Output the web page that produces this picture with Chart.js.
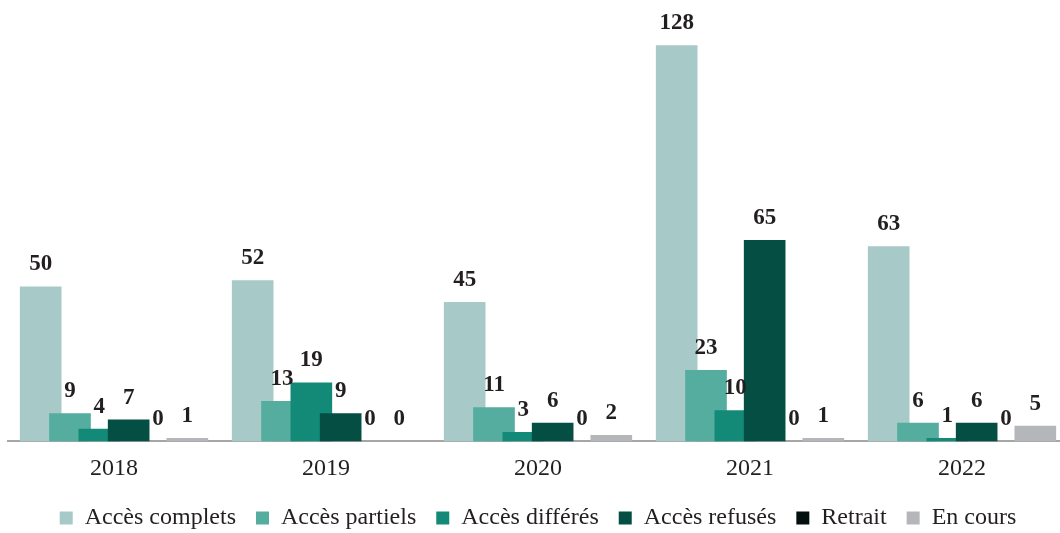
<!DOCTYPE html>
<html>
<head>
<meta charset="utf-8">
<script src="https://cdn.jsdelivr.net/npm/chart.js@4"></script>
<style>
  html, body { margin: 0; padding: 0; background: #fff; overflow: hidden; }
  #wrap { width: 1060px; height: 533px; overflow: hidden; }
</style>
</head>
<body>
<div id="wrap"><canvas id="chart" width="1068" height="533"></canvas></div>
<script>
const years = ["2018", "2019", "2020", "2021", "2022"];
const seriesNames = ["Accès complets", "Accès partiels", "Accès différés", "Accès refusés", "Retrait", "En cours"];
const complets = [50, 52, 45, 128, 63];
const partiels = [9, 13, 11, 23, 6];
const differes = [4, 19, 3, 10, 1];
const refuses = [7, 9, 6, 65, 6];
const retrait = [0, 0, 0, 0, 0];
const enCours = [1, 0, 2, 1, 5];
const colors = ["#a7c9c7", "#55ad9f", "#138a78", "#054e43", "#030f0f", "#b5b6ba"];

const serif = '"Liberation Serif", "Times New Roman", serif';

// later series overlap the earlier ones, so draw them first-to-last and put the values on top
const drawInOrder = {
  id: "drawInOrder",
  beforeDatasetsDraw(chart) {
    const ctx = chart.ctx;
    const metas = chart.getSortedVisibleDatasetMetas();
    metas.forEach((m) => m.controller.draw());
    ctx.save();
    ctx.font = "bold 23px " + serif;
    ctx.fillStyle = "#231f20";
    ctx.textAlign = "center";
    ctx.textBaseline = "alphabetic";
    metas.forEach((m) => {
      const vals = chart.data.datasets[m.index].data;
      m.data.forEach((bar, i) => {
        ctx.fillText(String(vals[i]), bar.x, bar.y - 16);
      });
    });
    ctx.restore();
    return false;
  },
};

// pull the legend a bit closer to the year labels
const legendNudge = {
  id: "legendNudge",
  afterLayout(chart) {
    chart.legend.top -= 10;
    chart.legend.bottom -= 10;
  },
};

const allSeries = [complets, partiels, differes, refuses, retrait, enCours];

new Chart(document.getElementById("chart"), {
  type: "bar",
  data: {
    labels: years,
    datasets: allSeries.map((vals, i) => ({
      label: seriesNames[i],
      data: vals,
      backgroundColor: colors[i],
      borderWidth: 0,
      categoryPercentage: 0.83,
      barPercentage: 1.42,
    })),
  },
  options: {
    responsive: false,
    animation: false,
    layout: { padding: { left: 8, top: 8, bottom: -17 } },
    plugins: {
      legend: {
        position: "bottom",
        labels: {
          font: { family: serif, size: 24 },
          color: "#231f20",
          boxWidth: 13,
          boxHeight: 13,
          padding: 20,
        },
      },
      tooltip: { enabled: false },
    },
    scales: {
      x: {
        grid: { display: false, drawTicks: false },
        border: { display: true, color: "#a6a6a6", width: 2 },
        ticks: {
          color: "#231f20",
          padding: 13,
          font: { family: serif, size: 24 },
        },
      },
      y: {
        display: false,
        min: 0,
        max: 140,
      },
    },
  },
  plugins: [drawInOrder, legendNudge],
});
</script>
</body>
</html>
